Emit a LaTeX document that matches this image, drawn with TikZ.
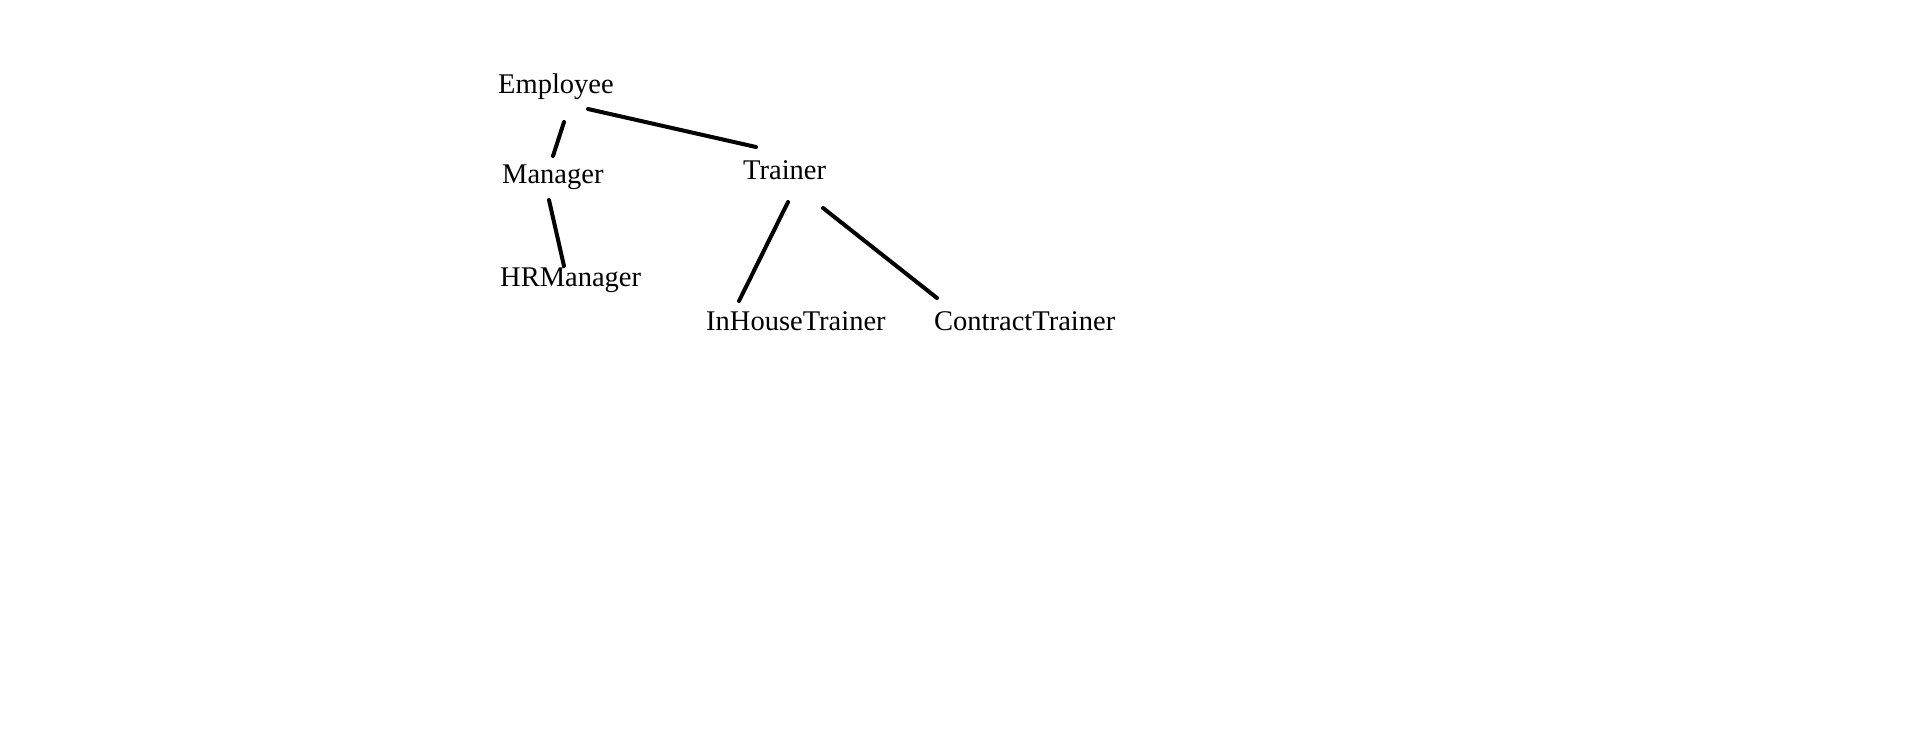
\documentclass[tikz,border=0pt]{standalone}
\usepackage{fontspec}
\setmainfont{Liberation Serif}
\usetikzlibrary{calc}
\begin{document}
\begin{tikzpicture}[x=1pt,y=-1pt,
  lbl/.style={inner sep=0pt,anchor=base west,font=\fontsize{28.5}{34}\selectfont},
  edge/.style={line width=4pt,line cap=round,black}]
\useasboundingbox[fill=white] (0,0) rectangle (1914,740);
\node[lbl] (emp) at (498,93) {Employee};
\node[lbl] (mgr) at (502,183) {Manager};
\node[lbl] (trn) at (743,179) {Trainer};
\node[lbl] (hr) at (500,286) {HRManager};
\node[lbl] (inh) at (706,330) {InHouseTrainer};
\node[lbl] (con) at (934,330) {ContractTrainer};
\draw[edge] ($(emp.base west)+(66,29)$) -- ($(mgr.base west)+(51,-27)$);
\draw[edge] ($(emp.base west)+(90,16)$) -- ($(trn.base west)+(13,-32)$);
\draw[edge] ($(mgr.base west)+(47,17)$) -- ($(hr.base west)+(64,-20)$);
\draw[edge] ($(trn.base west)+(45,23)$) -- ($(inh.base west)+(33,-29)$);
\draw[edge] ($(trn.base west)+(80,29)$) -- ($(con.base west)+(3,-32)$);
\end{tikzpicture}
\end{document}
